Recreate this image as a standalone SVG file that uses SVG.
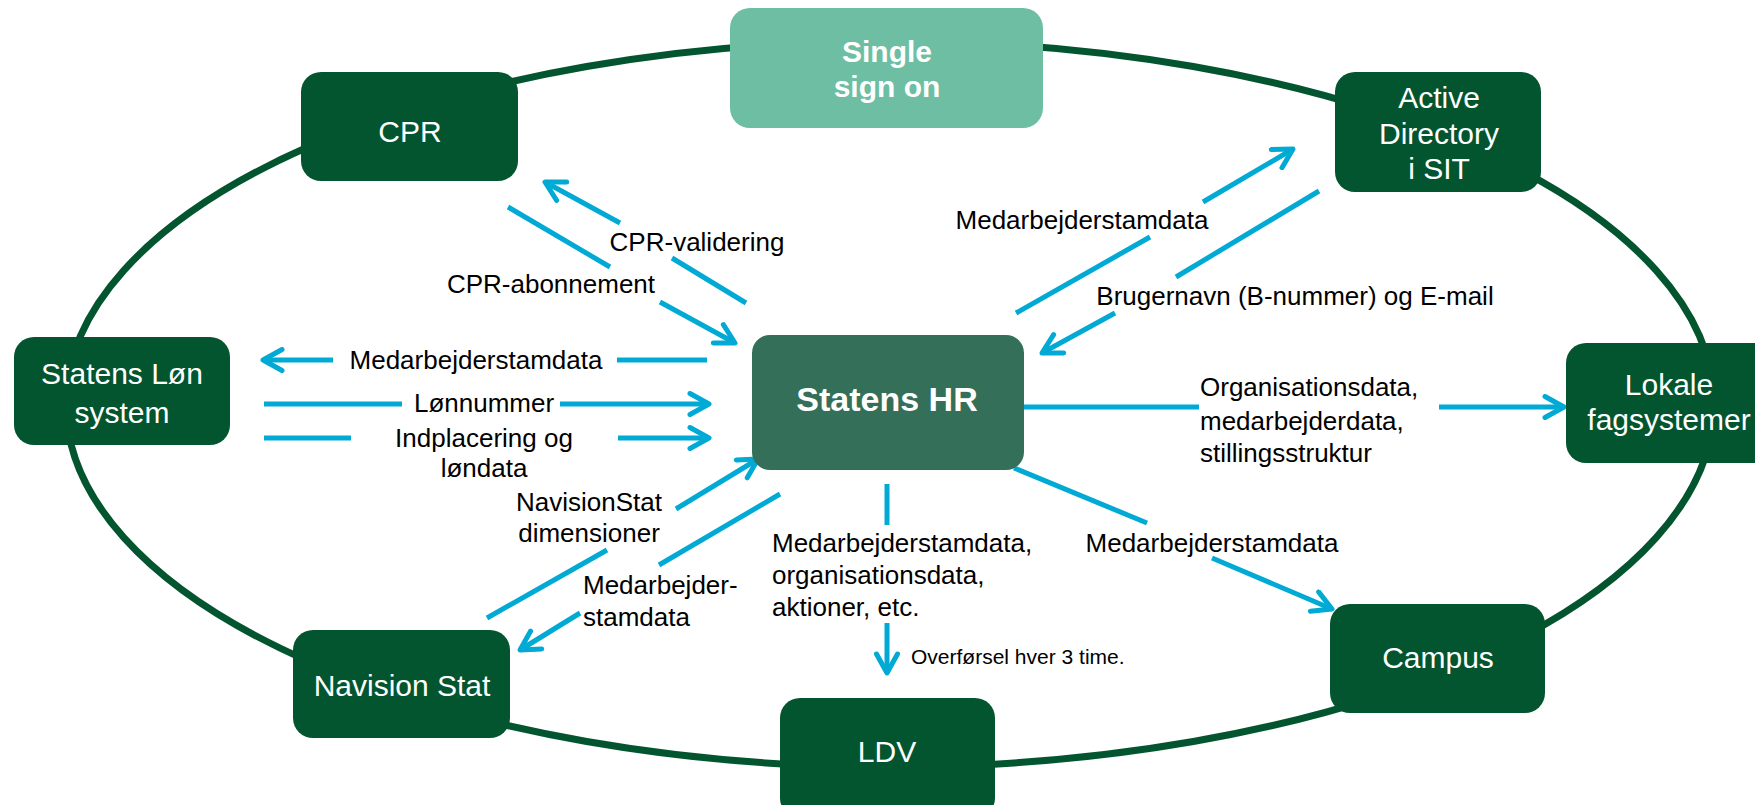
<svg xmlns="http://www.w3.org/2000/svg" width="1755" height="805" viewBox="0 0 1755 805">
<style>
.ring{fill:none;stroke:#03552f;stroke-width:7}
.box{fill:#03552f}
.sso{fill:#6dbea2}
.hr{fill:#346f5a}
.nt{font-family:"Liberation Sans",Arial,sans-serif;font-size:30px;fill:#ffffff;text-anchor:middle}
.bt{font-family:"Liberation Sans",Arial,sans-serif;font-weight:bold;fill:#ffffff;text-anchor:middle}
.c{stroke:#00aad4;stroke-width:5;fill:none}
.lb{font-family:"Liberation Sans",Arial,sans-serif;font-size:26px;fill:#000000}
.m{text-anchor:middle}
</style>
<defs>
<marker id="ah" viewBox="0 0 26 26" refX="22" refY="13" markerWidth="26" markerHeight="26" markerUnits="userSpaceOnUse" orient="auto">
<path d="M3,2.5 L22,13 L3,23.5" fill="none" stroke="#00aad4" stroke-width="5" stroke-linecap="round" stroke-linejoin="round"/>
</marker>
</defs>
<rect width="1755" height="805" fill="#ffffff"/>
<ellipse class="ring" cx="890" cy="404" rx="824" ry="363"/>
<g id="connectors">
<line class="c" x1="746" y1="303" x2="672" y2="258"/>
<line class="c" x1="620" y1="223" x2="545" y2="182" marker-end="url(#ah)"/>
<line class="c" x1="508" y1="207" x2="610" y2="267"/>
<line class="c" x1="660" y1="302" x2="735" y2="343" marker-end="url(#ah)"/>
<line class="c" x1="707" y1="360" x2="617" y2="360"/>
<line class="c" x1="333" y1="360" x2="263" y2="360" marker-end="url(#ah)"/>
<line class="c" x1="264" y1="404" x2="402" y2="404"/>
<line class="c" x1="560" y1="404" x2="709" y2="404" marker-end="url(#ah)"/>
<line class="c" x1="264" y1="438" x2="351" y2="438"/>
<line class="c" x1="618" y1="438" x2="709" y2="438" marker-end="url(#ah)"/>
<line class="c" x1="487" y1="618" x2="607" y2="550"/>
<line class="c" x1="676" y1="509" x2="758" y2="459" marker-end="url(#ah)"/>
<line class="c" x1="780" y1="494" x2="659" y2="565"/>
<line class="c" x1="580" y1="613" x2="520" y2="650" marker-end="url(#ah)"/>
<line class="c" x1="887" y1="484" x2="887" y2="525"/>
<line class="c" x1="887" y1="623" x2="887" y2="673" marker-end="url(#ah)"/>
<line class="c" x1="1014" y1="468" x2="1147" y2="523"/>
<line class="c" x1="1212" y1="558" x2="1332" y2="609" marker-end="url(#ah)"/>
<line class="c" x1="1024" y1="407" x2="1199" y2="407"/>
<line class="c" x1="1439" y1="407" x2="1564" y2="407" marker-end="url(#ah)"/>
<line class="c" x1="1016" y1="313" x2="1150" y2="237"/>
<line class="c" x1="1203" y1="202" x2="1293" y2="149" marker-end="url(#ah)"/>
<line class="c" x1="1319" y1="191" x2="1176" y2="277"/>
<line class="c" x1="1115" y1="313" x2="1042" y2="353" marker-end="url(#ah)"/>
<text class="lb m" x="697" y="251">CPR-validering</text>
<text class="lb m" x="551" y="293">CPR-abonnement</text>
<text class="lb m" x="476" y="369">Medarbejderstamdata</text>
<text class="lb m" x="484" y="412">Lønnummer</text>
<text class="lb m" x="484" y="447">Indplacering og</text>
<text class="lb m" x="484" y="477">løndata</text>
<text class="lb m" x="589" y="511">NavisionStat</text>
<text class="lb m" x="589" y="542">dimensioner</text>
<text class="lb" x="583" y="594">Medarbejder-</text>
<text class="lb" x="583" y="626">stamdata</text>
<text class="lb" x="772" y="552">Medarbejderstamdata,</text>
<text class="lb" x="772" y="584">organisationsdata,</text>
<text class="lb" x="772" y="616">aktioner, etc.</text>
<text class="lb" x="911" y="664" style="font-size:21px">Overførsel hver 3 time.</text>
<text class="lb m" x="1212" y="552">Medarbejderstamdata</text>
<text class="lb" x="1200" y="396">Organisationsdata,</text>
<text class="lb" x="1200" y="430">medarbejderdata,</text>
<text class="lb" x="1200" y="462">stillingsstruktur</text>
<text class="lb m" x="1082" y="229">Medarbejderstamdata</text>
<text class="lb m" x="1295" y="305">Brugernavn (B-nummer) og E-mail</text>
</g>
<g id="sso"><rect class="sso" x="730" y="8" width="313" height="120" rx="20"/><text class="bt" x="887" y="62" style="font-size:30px">Single</text><text class="bt" x="887" y="97" style="font-size:30px">sign on</text></g>
<g id="cpr"><rect class="box" x="301" y="72" width="217" height="109" rx="20"/><text class="nt" x="410" y="142">CPR</text></g>
<g id="ad"><rect class="box" x="1335" y="72" width="206" height="120" rx="20"/><text class="nt" x="1439" y="108">Active</text><text class="nt" x="1439" y="144">Directory</text><text class="nt" x="1439" y="179">i SIT</text></g>
<g id="loen"><rect class="box" x="14" y="337" width="216" height="108" rx="20"/><text class="nt" x="122" y="384">Statens Løn</text><text class="nt" x="122" y="423">system</text></g>
<g id="hr"><rect class="hr" x="752" y="335" width="272" height="135" rx="18"/><text class="bt" x="887" y="411" style="font-size:34px">Statens HR</text></g>
<g id="lokale"><rect class="box" x="1566" y="343" width="215" height="120" rx="20"/><text class="nt" x="1669" y="395">Lokale</text><text class="nt" x="1669" y="430">fagsystemer</text></g>
<g id="navision"><rect class="box" x="293" y="630" width="217" height="108" rx="20"/><text class="nt" x="402" y="696">Navision Stat</text></g>
<g id="ldv"><rect class="box" x="780" y="698" width="215" height="120" rx="20"/><text class="nt" x="887" y="762">LDV</text></g>
<g id="campus"><rect class="box" x="1330" y="604" width="215" height="109" rx="20"/><text class="nt" x="1438" y="668">Campus</text></g>
</svg>
